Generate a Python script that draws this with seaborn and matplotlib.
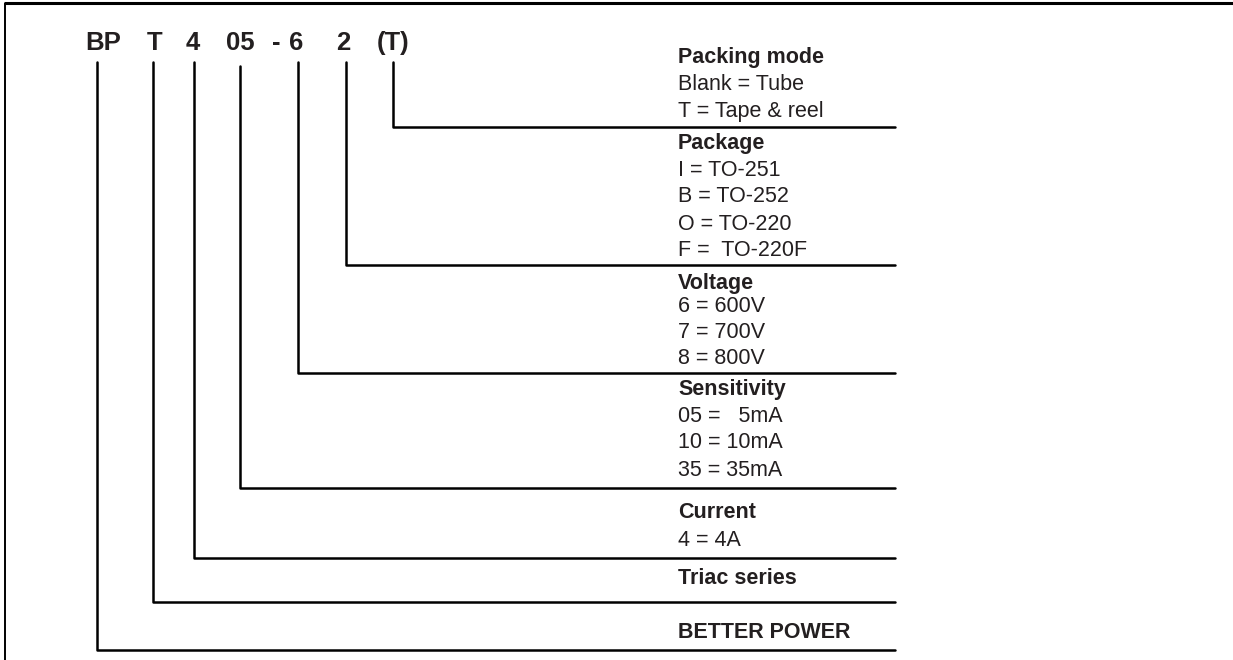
import pandas as pd
import seaborn as sns
import matplotlib
matplotlib.use("Agg")
import matplotlib.pyplot as plt

# -------------------------------
# Data: part number code and its fields
# -------------------------------
code_parts = ["BP", "T", "4", "05", "-", "6", "2", "(T)"]
code_x = [103, 155, 193, 240, 276, 296, 343, 393]

# one connector per field, from the code character down to its line
field_names = ["BETTER POWER", "Triac series", "Current", "Sensitivity",
               "Voltage", "Package", "Packing mode"]
field_x = [97, 153, 194, 240, 298, 346, 393]
field_top = [62, 62, 62, 66, 62, 62, 62]
field_line_y = [650, 602, 558, 488, 373, 265, 127]

field_options = {
    "Packing mode": ["Blank = Tube", "T = Tape & reel"],
    "Package": ["I = TO-251", "B = TO-252", "O = TO-220", "F =  TO-220F"],
    "Voltage": ["6 = 600V", "7 = 700V", "8 = 800V"],
    "Sensitivity": ["05 =   5mA", "10 = 10mA", "35 = 35mA"],
    "Current": ["4 = 4A"],
    "Triac series": [],
    "BETTER POWER": [],
}
# y of the title and of each option line
field_text_y = {
    "Packing mode": [57, 84, 112],
    "Package": [143, 170, 197, 224, 251],
    "Voltage": [283, 307, 332, 358],
    "Sensitivity": [390, 417, 443, 471],
    "Current": [512, 540],
    "Triac series": [578],
    "BETTER POWER": [633],
}

LINE_END = 895
TEXT_X = 678
INK = "#231f20"


def build_paths():
    """Connector polylines as a long table for seaborn."""
    rows = []
    for name, x, top, y in zip(field_names, field_x, field_top, field_line_y):
        for i, (px, py) in enumerate([(x, top), (x, y), (LINE_END, y)]):
            rows.append({"field": name, "order": i, "x": px, "y": py})
    return pd.DataFrame(rows)


def main():
    sns.set_style("white")
    plt.rcParams["font.family"] = ["Liberation Sans", "DejaVu Sans"]

    fig = plt.figure(figsize=(12.33, 6.6), dpi=100)
    ax = fig.add_axes([0, 0, 1, 1])
    ax.set_xlim(0, 1233)
    ax.set_ylim(660, 0)
    ax.axis("off")

    # frame: top and left edges
    ax.plot([4, 1233], [3, 3], color="black", lw=2.2, solid_capstyle="butt")
    ax.plot([5, 5], [3, 660], color="black", lw=1.4, solid_capstyle="butt")

    # connectors
    paths = build_paths()
    sns.lineplot(data=paths, x="x", y="y", units="field", estimator=None,
                 sort=False, color="black", lw=1.8, ax=ax, legend=False)
    ax.set_xlim(0, 1233)
    ax.set_ylim(660, 0)

    # part number code
    for part, x in zip(code_parts, code_x):
        ax.text(x, 43, part, ha="center", va="center", fontsize=18.5,
                fontweight="bold", color=INK)

    # field descriptions
    for name in field_names:
        ys = field_text_y[name]
        ax.text(TEXT_X, ys[0], name, ha="left", va="center", fontsize=15.5,
                fontweight="bold", color=INK)
        for opt, y in zip(field_options[name], ys[1:]):
            ax.text(TEXT_X, y, opt, ha="left", va="center", fontsize=15.5,
                    color=INK)

    fig.savefig("out.png", dpi=100)


if __name__ == "__main__":
    main()
